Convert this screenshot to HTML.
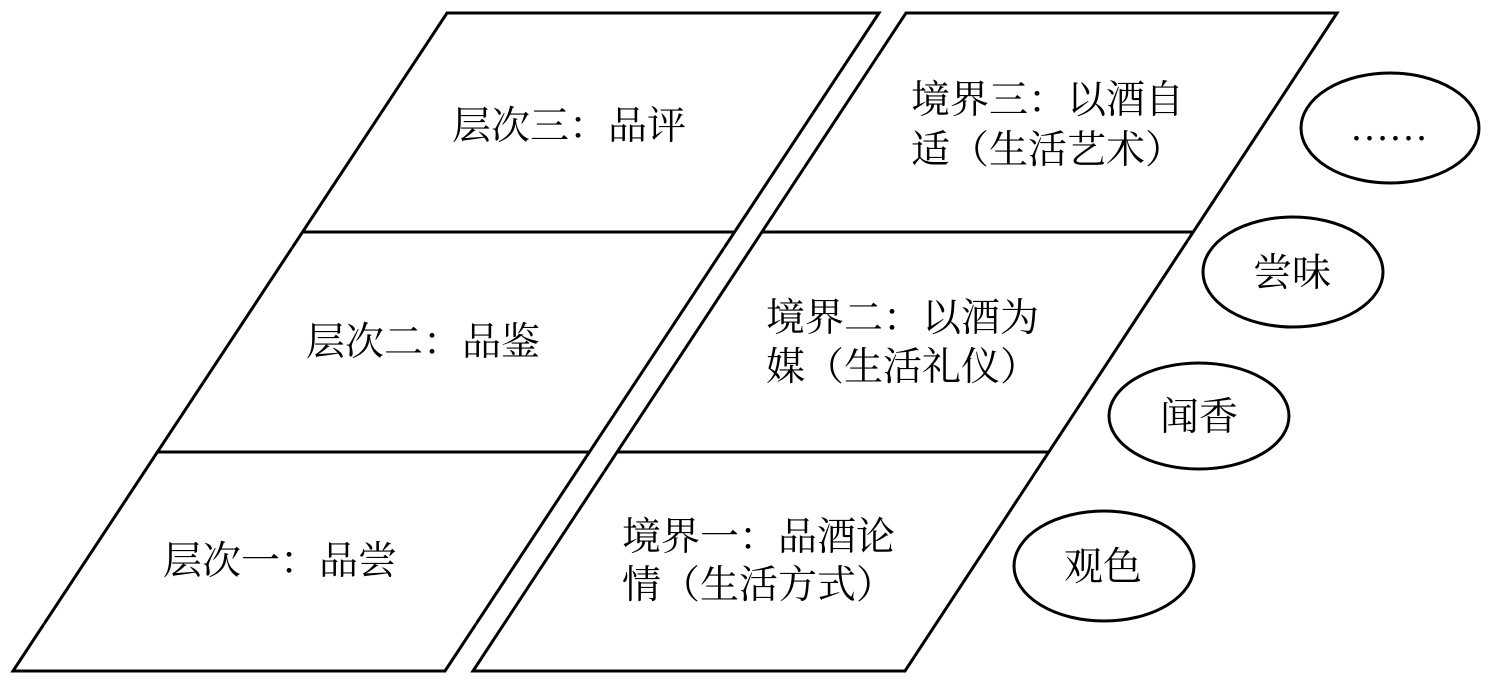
<!DOCTYPE html>
<html><head><meta charset="utf-8"><style>
html,body{margin:0;padding:0;background:#fff;}
svg{display:block;}
text{font-family:"Liberation Serif","Noto Serif CJK SC",serif;font-size:39px;fill:#000;}
</style></head><body>
<svg width="1492" height="681" viewBox="0 0 1492 681" xmlns="http://www.w3.org/2000/svg">
<g fill="none" stroke="#000" stroke-width="3">
<polygon points="447,13 879,13 445,671 13,671"/>
<line x1="303" y1="232" x2="735" y2="232"/>
<line x1="158" y1="452" x2="590" y2="452"/>
<polygon points="906,13 1337,13 905,671 473,671"/>
<line x1="762" y1="232" x2="1193" y2="232"/>
<line x1="617" y1="452" x2="1048" y2="452"/>
<ellipse cx="1390" cy="128" rx="89" ry="55"/>
<ellipse cx="1293" cy="272" rx="90" ry="55"/>
<ellipse cx="1199" cy="416" rx="90" ry="53"/>
<ellipse cx="1104" cy="566" rx="90" ry="55"/>
</g>
<text x="452" y="139">层次三：品评</text>
<text x="306" y="355">层次二：品鉴</text>
<text x="163" y="574">层次一：品尝</text>
<text x="911" y="113">境界三：以酒自</text>
<text x="911" y="163">适（生活艺术）</text>
<text x="766" y="331">境界二：以酒为</text>
<text x="766" y="380">媒（生活礼仪）</text>
<text x="622" y="550">境界一：品酒论</text>
<text x="622" y="598">情（生活方式）</text>
<text x="1350" y="140">……</text>
<text x="1253" y="286">尝味</text>
<text x="1160" y="430">闻香</text>
<text x="1064" y="580">观色</text>
</svg>
</body></html>
